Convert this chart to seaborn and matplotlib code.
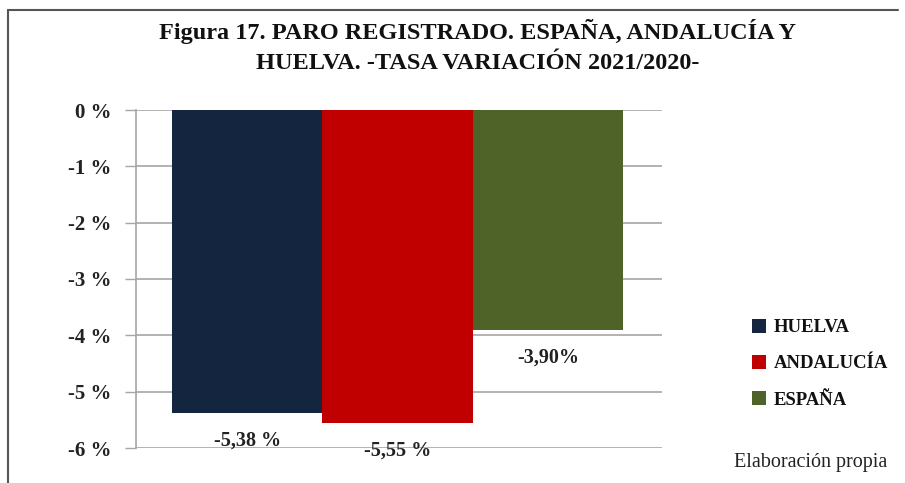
import numpy as np
import pandas as pd
import matplotlib.pyplot as plt
from matplotlib.lines import Line2D
from matplotlib.patches import Patch
import seaborn as sns

# data
regions = ['HUELVA', 'ANDALUCÍA', 'ESPAÑA']
tasa = [-5.38, -5.55, -3.90]
etiquetas = ['-5,38 %', '-5,55 %', '-3,90%']
colores = ['#14253f', '#c00000', '#4f6228']
yticks = [0, -1, -2, -3, -4, -5, -6]

sns.set_style('white')
plt.rcParams['font.family'] = ['Liberation Serif', 'DejaVu Serif']

df = pd.DataFrame({'region': regions, 'tasa': tasa})

fig = plt.figure(figsize=(9.05, 4.83), dpi=100)
ax = fig.add_axes([136 / 905, 1 - 448 / 483, (662 - 136) / 905, (448 - 110) / 483])

sns.barplot(data=df, x='region', y='tasa', hue='region', palette=colores,
            width=1.0, dodge=False, legend=False, ax=ax, zorder=3,
            saturation=1, linewidth=0)

ax.set_ylim(-6, 0)
ax.set_xlim(-0.74, 2.76)
ax.set_yticks(yticks)
ax.set_yticklabels([f'{t} %' for t in yticks], fontsize=15, fontweight='bold',
                   color='#222222')
ax.set_xticks([])
ax.set_xlabel('')
ax.set_ylabel('')
ax.yaxis.grid(True, color='#a6a6a6', linewidth=1.2, zorder=0)
ax.tick_params(axis='y', which='major', left=True, length=8, width=1,
               color='#a6a6a6', pad=10)

for sp in ['top', 'right', 'bottom']:
    ax.spines[sp].set_visible(False)
ax.spines['left'].set_color('#a6a6a6')
ax.spines['left'].set_linewidth(1.2)

# value labels
for i, (v, lab) in enumerate(zip(tasa, etiquetas)):
    ax.annotate(lab, xy=(i, v), xytext=(0, -20), textcoords='offset points',
                ha='center', va='center', fontsize=14.5, fontweight='bold',
                color='#222222')

fig.suptitle('Figura 17. PARO REGISTRADO. ESPAÑA, ANDALUCÍA Y\nHUELVA. -TASA VARIACIÓN 2021/2020-',
             x=0.528, y=0.96, fontsize=17.5, fontweight='bold', linespacing=1.55,
             color='#111111')

handles = [Patch(facecolor=c, edgecolor='none') for c in colores]
leg = fig.legend(handles, regions, loc='upper left', bbox_to_anchor=(735 / 905, 1 - 302 / 483),
                 frameon=False, prop={'weight': 'bold', 'size': 13.5},
                 handlelength=0.75, handleheight=0.75, handletextpad=0.4,
                 labelspacing=1.0)
for t in leg.get_texts():
    t.set_color('#111111')

fig.text(887 / 905, 1 - 463 / 483, 'Elaboración propia', ha='right', va='center',
         fontsize=14.5, color='#222222')

# marco
fig.add_artist(Line2D([8 / 905, 898 / 905], [1 - 10 / 483, 1 - 10 / 483],
                      color='#555555', linewidth=1.5, transform=fig.transFigure))
fig.add_artist(Line2D([8 / 905, 8 / 905], [1 - 10 / 483, 0],
                      color='#555555', linewidth=1.5, transform=fig.transFigure))

fig.savefig('out.png', dpi=100)
